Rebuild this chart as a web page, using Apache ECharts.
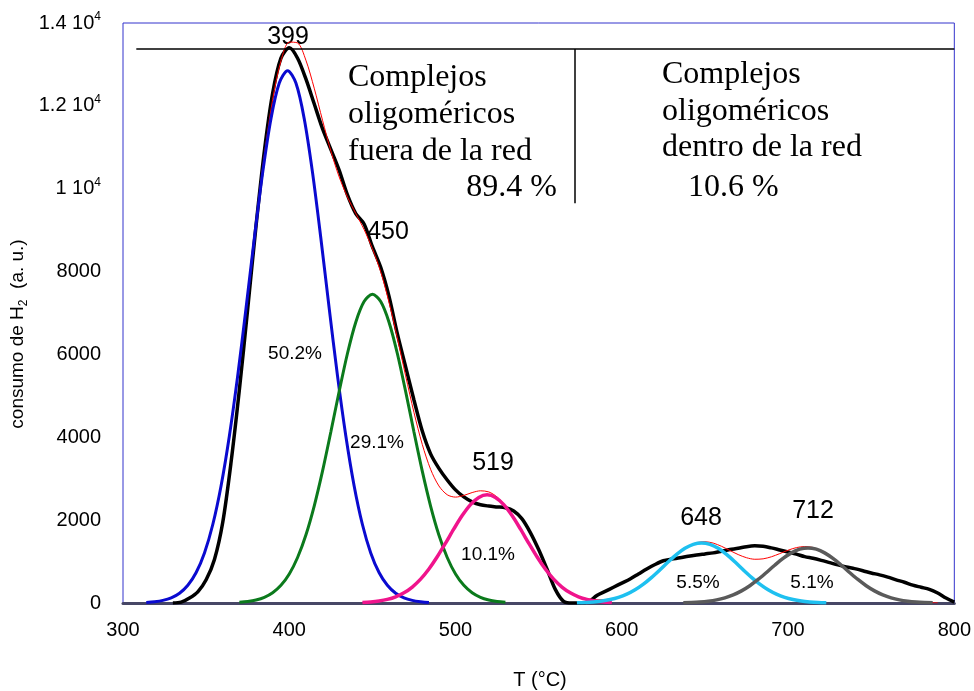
<!DOCTYPE html>
<html>
<head>
<meta charset="utf-8">
<script src="https://cdn.jsdelivr.net/npm/echarts@6/dist/echarts.min.js"></script>
<style>
  html, body { margin: 0; padding: 0; background: #fff; }
  #main { width: 974px; height: 691px; }
</style>
</head>
<body>
<div id="main"></div>
<script>
// experimental TPR signal (black) and fitted sum (red)
var tprExp = [[330,0],[335,20],[340,120],[345,270],[350,560],[355,1050],[360,1950],[365,3400],[370,5150],[375,7100],
  [380,9100],[385,10900],[390,12300],[395,13150],[400,13400],[405,13150],[410,12650],[415,12050],[420,11450],[425,10950],
  [430,10450],[435,9850],[440,9400],[445,9150],[450,8600],[455,8100],[460,7400],[465,6500],[470,5700],[475,4900],
  [480,4150],[485,3600],[490,3250],[495,2970],[500,2730],[505,2560],[510,2440],[515,2370],[520,2340],[525,2320],
  [530,2300],[535,2220],[540,2030],[545,1700],[550,1290],[555,820],[560,330],[565,40],[570,0],[575,0],
  [580,30],[585,180],[590,280],[595,380],[600,480],[605,580],[610,700],[615,820],[620,930],[625,1020],
  [630,1060],[635,1090],[640,1130],[645,1160],[650,1185],[655,1210],[660,1250],[665,1290],[670,1320],[675,1360],
  [680,1380],[685,1370],[690,1330],[695,1280],[700,1230],[705,1180],[710,1120],[715,1080],[720,1030],[725,975],
  [730,920],[735,870],[740,830],[745,780],[750,725],[755,680],[760,625],[765,560],[770,500],[775,430],
  [780,380],[785,330],[790,240],[795,120],[800,20]];

var fitSum = [[330,143],[335,267],[340,479],[345,816],[350,1329],[355,2061],[360,3056],[365,4317],[370,5821],[375,7493],
  [380,9208],[385,10814],[390,12151],[395,13084],[400,13539],[405,13519],[410,13103],[415,12428],[420,11653],[425,10911],
  [430,10286],[435,9798],[440,9402],[445,9015],[450,8550],[455,7993],[460,7257],[465,6398],[470,5484],[475,4601],
  [480,3828],[485,3228],[490,2826],[495,2613],[500,2556],[505,2596],[510,2666],[515,2708],[520,2681],[525,2560],
  [530,2346],[535,2057],[540,1721],[545,1378],[550,1052],[555,767],[560,533],[565,353],[570,228],[575,144],
  [580,96],[585,77],[590,82],[595,113],[600,169],[605,253],[610,370],[615,518],[620,691],[625,880],
  [630,1069],[635,1241],[640,1375],[645,1457],[650,1479],[655,1446],[660,1368],[665,1268],[670,1169],[675,1093],
  [680,1056],[685,1066],[690,1116],[695,1192],[700,1274],[705,1337],[710,1363],[715,1340],[720,1263],[725,1139],
  [730,979],[735,807],[740,634],[745,475],[750,340],[755,232],[760,151],[765,94],[770,55],[775,31],
  [780,17],[785,9],[790,4]];

// fitted components
var peak399 = [[314,12],[319,30],[324,63],[329,125],[334,236],[339,428],[344,736],[349,1209],[354,1895],[359,2832],
  [364,4037],[369,5488],[374,7118],[379,8805],[384,10388],[389,11691],[394,12549],[399,12850],[404,12549],[409,11691],
  [414,10388],[419,8805],[424,7118],[429,5488],[434,4037],[439,2832],[444,1895],[449,1209],[454,736],[459,428],
  [464,236],[469,125],[474,63],[479,30],[484,10]];
var peak450 = [[370,18],[375,37],[380,73],[385,137],[390,248],[395,427],[400,701],[405,1099],[410,1642],[415,2341],
  [420,3182],[425,4127],[430,5105],[435,6023],[440,6778],[445,7276],[450,7450],[455,7276],[460,6778],[465,6023],
  [470,5105],[475,4127],[480,3182],[485,2341],[490,1642],[495,1099],[500,701],[505,427],[510,248],[515,137],
  [520,73],[525,37],[530,18]];
var peak519 = [[444,13],[449,25],[454,48],[459,87],[464,150],[469,246],[474,385],[479,575],[484,820],[489,1115],
  [494,1446],[499,1788],[504,2110],[509,2375],[514,2549],[519,2610],[524,2549],[529,2375],[534,2110],[539,1788],
  [544,1446],[549,1115],[554,820],[559,575],[564,385],[569,246],[574,150],[579,87],[584,48],[589,25],[594,13]];
var peak648 = [[573,7],[578,14],[583,27],[588,48],[593,83],[598,136],[603,214],[608,320],[613,456],[618,619],
  [623,803],[628,994],[633,1172],[638,1319],[643,1416],[648,1450],[653,1416],[658,1319],[663,1172],[668,994],
  [673,803],[678,619],[683,456],[688,320],[693,214],[698,136],[703,83],[708,48],[713,27],[718,14],[723,7]];
var peak712 = [[637,7],[642,13],[647,24],[652,44],[657,76],[662,125],[667,196],[672,293],[677,418],[682,568],
  [687,737],[692,911],[697,1075],[702,1210],[707,1299],[712,1330],[717,1299],[722,1210],[727,1075],[732,911],
  [737,737],[742,568],[747,418],[752,293],[757,196],[762,125],[767,76],[772,44],[777,24],[782,13],[787,7]];

var peakNames = ['399', '450', '519', '648', '712'];
var peakShares = ['50.2%', '29.1%', '10.1%', '5.5%', '5.1%'];
var yTicks = [0, 2000, 4000, 6000, 8000, 10000, 12000, 14000];

// separator lines of the two regions (T, consumo)
var topLine = [[308, 13370], [800, 13370]];
var midLine = [[572, 13370], [572, 9650]];

var sans = "'Liberation Sans Narrow', 'Liberation Sans', Arial, sans-serif";
var serif = "'Liberation Serif', 'Times New Roman', serif";

var myChart = echarts.init(document.getElementById('main'));

function curve(data, color, width) {
    return {
        type: 'line',
        data: data,
        showSymbol: false,
        smooth: 0.3,
        lineStyle: { color: color, width: width },
        silent: true
    };
}

function txt(x, y, s, size, family, align) {
    return {
        type: 'text', x: x, y: y, silent: true,
        style: { text: s, fontSize: size, fontFamily: family, fill: '#000',
                 align: align || 'center', verticalAlign: 'middle' }
    };
}

var option = {
    animation: false,
    backgroundColor: '#fff',
    grid: { left: 123, right: 17, top: 23, bottom: 88, show: true, borderColor: '#3333cc', borderWidth: 1 },
    xAxis: {
        type: 'value', min: 300, max: 800, interval: 100,
        axisLine: { show: true, lineStyle: { color: '#474766', width: 3 } },
        axisTick: { show: false },
        splitLine: { show: false },
        axisLabel: { color: '#000', fontSize: 20, fontFamily: sans, margin: 17 }
    },
    yAxis: {
        type: 'value', min: yTicks[0], max: yTicks[yTicks.length - 1], interval: 2000,
        axisLine: { show: false },
        axisTick: { show: false },
        splitLine: { show: false },
        axisLabel: {
            margin: 22,
            formatter: function (v) {
                if (v >= 10000) return '{m|' + (v / 10000) + ' 10}{s|4}';
                return '{m|' + v + '}';
            },
            rich: {
                m: { color: '#000', fontSize: 20, fontFamily: sans, lineHeight: 24 },
                s: { color: '#000', fontSize: 12, fontFamily: sans, verticalAlign: 'top', lineHeight: 24, padding: [0, 0, 12, 0] }
            }
        }
    },
    graphic: [
        {
            type: 'text', x: 18, y: 334, rotation: Math.PI / 2, silent: true,
            style: {
                text: '{t|consumo de H}{b|2}{t|  (a. u.)}',
                align: 'center', verticalAlign: 'middle',
                rich: {
                    t: { fontSize: 19, fontFamily: "'Liberation Sans', Arial, sans-serif", fill: '#000', lineHeight: 26 },
                    b: { fontSize: 12, fontFamily: "'Liberation Sans', Arial, sans-serif", fill: '#000', lineHeight: 26, padding: [11, 0, 0, 0] }
                }
            }
        },
        txt(540, 680, 'T (°C)', 20, sans),
        txt(288, 37, peakNames[0], 25, sans),
        txt(388, 232, peakNames[1], 25, sans),
        txt(493, 463, peakNames[2], 25, sans),
        txt(701, 518, peakNames[3], 25, sans),
        txt(813, 511, peakNames[4], 25, sans),
        txt(295, 354, peakShares[0], 19, sans),
        txt(377, 443, peakShares[1], 19, sans),
        txt(488, 555, peakShares[2], 19, sans),
        txt(698, 583, peakShares[3], 19, sans),
        txt(812, 583, peakShares[4], 19, sans),
        txt(348, 78, 'Complejos', 32, serif, 'left'),
        txt(348, 115, 'oligoméricos', 32, serif, 'left'),
        txt(348, 152, 'fuera de la red', 32, serif, 'left'),
        txt(557, 188, '89.4 %', 32, serif, 'right'),
        txt(662, 75, 'Complejos', 32, serif, 'left'),
        txt(662, 112, 'oligoméricos', 32, serif, 'left'),
        txt(662, 148, 'dentro de la red', 32, serif, 'left'),
        txt(688, 188, '10.6 %', 32, serif, 'left')
    ],
    series: [
        curve(tprExp, '#000000', 3.5),
        curve(fitSum, '#ff0000', 1),
        curve(peak399, '#0a0ad0', 3),
        curve(peak450, '#0b7a1c', 3),
        curve(peak519, '#f0148c', 3.5),
        curve(peak648, '#1ec0f0', 3.5),
        curve(peak712, '#5a5a5a', 3.5),
        {
            type: 'line', data: [], silent: true,
            markLine: {
                silent: true, symbol: ['none', 'none'],
                label: { show: false },
                lineStyle: { color: '#000', width: 1.5, type: 'solid' },
                data: [
                    [{ coord: topLine[0] }, { coord: topLine[1] }],
                    [{ coord: midLine[0] }, { coord: midLine[1] }]
                ]
            }
        }
    ]
};

myChart.setOption(option);
</script>
</body>
</html>
